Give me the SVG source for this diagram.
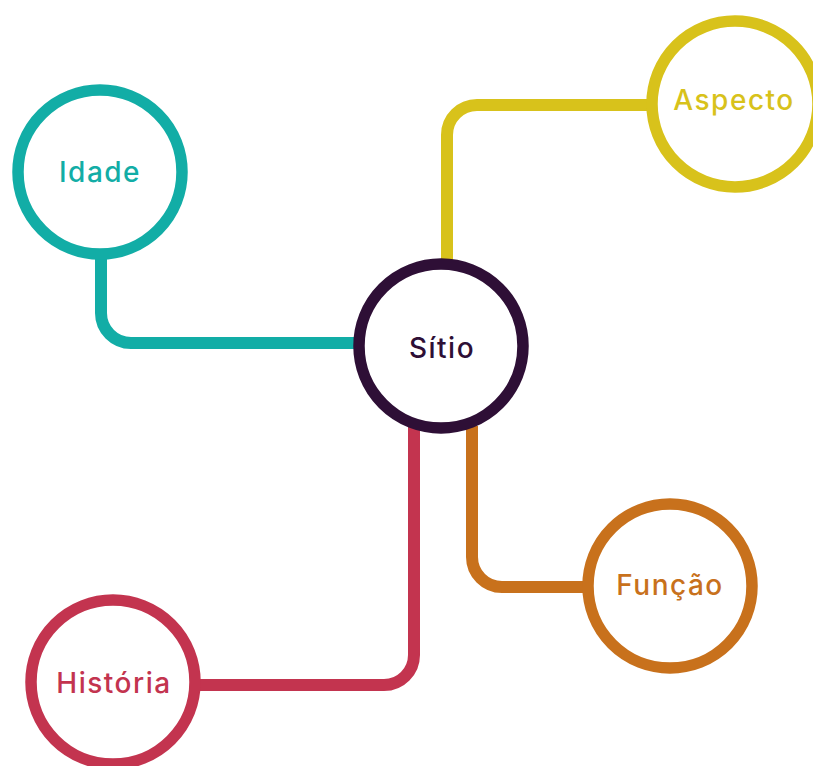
<svg xmlns="http://www.w3.org/2000/svg" width="813" height="766" viewBox="0 0 813 766">
<style>
.c{fill:none;stroke-width:12;stroke-linecap:butt}
.n{fill:#fff;stroke-width:11.5}
.t{font-family:Inter,"Open Sans","Liberation Sans",sans-serif;font-size:28px;text-anchor:middle;letter-spacing:1.5px;font-weight:500}
</style>
<rect width="813" height="766" fill="#fff"/>
<g id="connectors">
<path class="c" stroke="#12ADA6" d="M101,255 V313 A30,30 0 0 0 131,343 H362"/>
<path class="c" stroke="#D8C21B" d="M447,265 V135 A30,30 0 0 1 477,105 H652"/>
<path class="c" stroke="#C8711C" d="M472,426 V557 A30,30 0 0 0 502,587 H588"/>
<path class="c" stroke="#C3344F" d="M414,426 V655 A30,30 0 0 1 384,685 H196"/>
</g>
<g id="sitio">
<circle class="n" cx="441" cy="346" r="82" stroke="#2E0F36"/>
<text class="t" x="442" y="358" fill="#2E0F36">Sítio</text>
</g>
<g id="idade">
<circle class="n" cx="100" cy="172" r="82" stroke="#12ADA6"/>
<text class="t" x="100" y="182" fill="#12ADA6">Idade</text>
</g>
<g id="aspecto">
<circle class="n" cx="735" cy="104" r="83" stroke="#D8C21B"/>
<text class="t" x="734" y="110" fill="#D8C21B">Aspecto</text>
</g>
<g id="funcao">
<circle class="n" cx="670" cy="586" r="82" stroke="#C8711C"/>
<text class="t" x="670" y="595" fill="#C8711C">Função</text>
</g>
<g id="historia">
<circle class="n" cx="113" cy="682" r="82" stroke="#C3344F"/>
<text class="t" x="114" y="693" fill="#C3344F">História</text>
</g>
</svg>
